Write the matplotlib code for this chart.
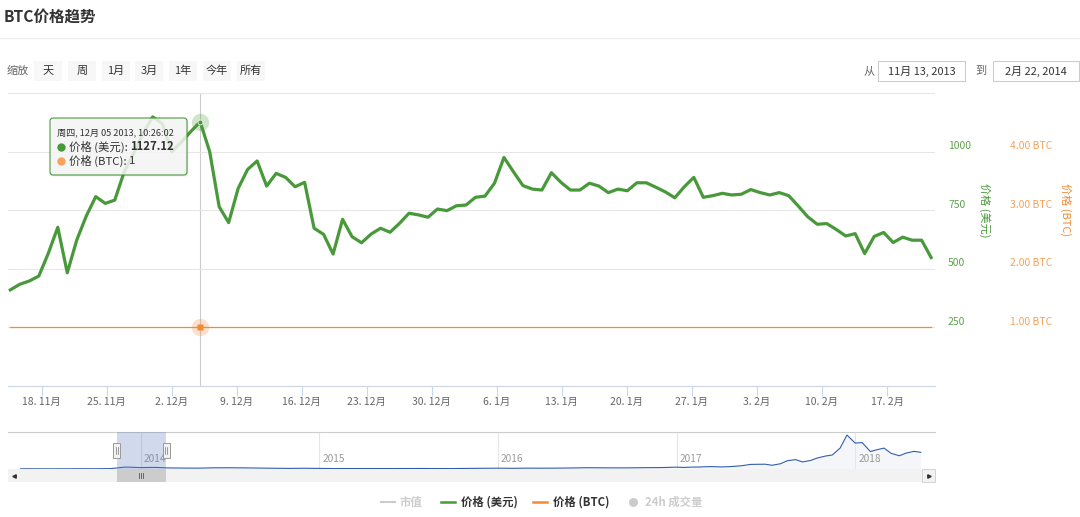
import matplotlib
matplotlib.use('Agg')
import matplotlib.pyplot as plt
import matplotlib.dates as mdates
from matplotlib.patches import Rectangle, FancyBboxPatch
from matplotlib.ticker import FuncFormatter
import pandas as pd

plt.rcParams['font.family'] = ['Noto Sans CJK SC', 'DejaVu Sans']

# ---- data ----
usd_price = [
    410, 434, 448, 469, 566, 677, 483, 623, 725, 808,
    779, 793, 914, 994, 1079, 1148, 1120, 999, 1040, 1085,
    1127.12, 1000, 765, 697, 843, 924, 960, 853, 907, 890,
    850, 869, 673, 647, 563, 711, 637, 611, 648, 673,
    656, 694, 737, 730, 720, 755, 748, 769, 772, 805,
    810, 865, 975, 914, 855, 840, 836, 910, 869, 836,
    836, 865, 853, 825, 840, 833, 867, 867, 848, 828,
    803, 850, 890, 805, 812, 822, 815, 818, 838, 825,
    815, 825, 812, 768, 722, 690, 693, 668, 640, 650,
    565, 638, 655, 612, 635, 622, 622, 548]
btc_price = [1] * len(usd_price)
first_time = '2013-11-14 15:00'
last_time = '2014-02-21 18:00'

hover_index = 20
hover_label = '周四, 12月 05 2013, 10:26:02'

usd_ticks = [250, 500, 750, 1000]
btc_ticks = [1, 2, 3, 4]

range_from = '11月 13, 2013'
range_to = '2月 22, 2014'
sel_start = '2013-11-13'
sel_end = '2014-02-22'
zoom_buttons = ['天', '周', '1月', '3月', '1年', '今年', '所有']

# navigator (whole history), monthly then twice a month
nav_monthly = [
    117, 108, 90, 105, 130, 125, 210, 1000,
    750, 830, 560, 480, 450, 630, 640, 590, 480, 385, 325, 380,
    315, 225, 255, 245, 235, 230, 260, 285, 230, 240, 315, 365,
    430, 370, 435, 415, 450, 535, 670, 620, 575, 610, 700, 745]
nav_semimonthly = [
    965, 820, 990, 1010, 1190, 1240, 1080, 1180, 1420, 1740, 2400, 2450,
    2500, 1950, 2730, 4300, 4900, 3700, 4400, 5700, 6750, 7300, 10900, 17700,
    13500, 13800, 9100, 10100, 10900, 8200, 6900, 8300, 9200, 8700]
nav_years = ['2014', '2015', '2016', '2017', '2018']

W, H = 1080, 517
PT = 0.72
green = '#48993a'
green_lbl = '#5da34a'
orange = '#f28b36'
orange_lbl = '#f4a35d'
grey_txt = '#666666'

dates = pd.date_range(first_time, last_time, periods=len(usd_price))
nav_dates = list(pd.date_range('2013-05-01', '2016-12-01', freq='MS')) + \
    list(pd.date_range('2017-01-01', '2018-05-15', freq='SMS'))
nav_vals = nav_monthly + nav_semimonthly

fig = plt.figure(figsize=(W / 100, H / 100), dpi=100)
fig.patch.set_facecolor('white')


def rect(x0, y0, x1, y1):
    return [x0 / W, 1 - y1 / H, (x1 - x0) / W, (y1 - y0) / H]


# ---- main chart ----
ax = fig.add_axes(rect(8, 93, 935, 386))
ax.plot(dates, usd_price, color=green, lw=2.3, solid_joinstyle='round', zorder=3)
ax.axvline(dates[hover_index], color='#cccccc', lw=0.8, zorder=1)
ax.plot(dates[hover_index], usd_price[hover_index], 'o', ms=12.5, color=green,
        alpha=0.25, mec='none', zorder=4)
ax.plot(dates[hover_index], usd_price[hover_index], 'o', ms=3.5, color=green,
        mec='white', mew=0.5, zorder=5)
ax.set_ylim(0, 1250)
ax.set_xlim(pd.Timestamp('2013-11-14 09:00'), pd.Timestamp('2014-02-22 04:00'))
ax.set_yticks([0, 250, 500, 750, 1000, 1250])
ax.grid(axis='y', color='#e6e6e6', lw=0.75, zorder=0)
ax.tick_params(axis='y', length=0, labelleft=False)
for s in ['top', 'left', 'right']:
    ax.spines[s].set_visible(False)
ax.spines['bottom'].set_color('#ccd6eb')
ax.spines['bottom'].set_linewidth(0.8)
ax.xaxis.set_major_locator(mdates.WeekdayLocator(byweekday=mdates.MO))
ax.xaxis.set_major_formatter(FuncFormatter(
    lambda v, p: '%d. %d月' % (mdates.num2date(v).day, mdates.num2date(v).month)))
ax.tick_params(axis='x', direction='out', length=10 * PT, width=0.8, color='#ccd6eb',
               labelsize=7.5, labelcolor=grey_txt, pad=1)

for v in usd_ticks:
    ax.annotate(str(v), xy=(1, v), xycoords=('axes fraction', 'data'),
                xytext=(13 * PT, 5.5 * PT), textcoords='offset points',
                ha='left', va='center', fontsize=7.5, color=green_lbl, annotation_clip=False)

ax2 = ax.twinx()
ax2.plot(dates, btc_price, color=orange, lw=0.9, zorder=2)
ax2.plot(dates[hover_index], btc_price[hover_index], 'o', ms=12.5, color=orange,
         alpha=0.25, mec='none')
ax2.plot(dates[hover_index], btc_price[hover_index], 's', ms=4.3, color=orange, mec='none')
ax2.set_ylim(0, 5)
ax2.set_yticks([])
for s in ax2.spines.values():
    s.set_visible(False)
for b in btc_ticks:
    ax2.annotate('%.2f BTC' % b, xy=(1, b), xycoords=('axes fraction', 'data'),
                 xytext=(75 * PT, 5.5 * PT), textcoords='offset points',
                 ha='left', va='center', fontsize=7.5, color=orange_lbl, annotation_clip=False)

# ---- navigator ----
nav = fig.add_axes(rect(8, 432, 935, 469))
nav.plot(nav_dates, nav_vals, color='#335cad', lw=0.8, zorder=3)
nav.fill_between(nav_dates, nav_vals, 0, color='#335cad', alpha=0.05, lw=0)
nav.set_xlim(pd.Timestamp('2013-04-05'), pd.Timestamp('2018-06-13'))
nav.set_ylim(0, 19300)
nav.set_xticks([pd.Timestamp(y + '-01-01') for y in nav_years])
nav.grid(axis='x', color='#e6e6e6', lw=0.8, zorder=0)
nav.tick_params(length=0, labelbottom=False, labelleft=False)
nav.set_yticks([])
for s in ['left', 'right', 'bottom']:
    nav.spines[s].set_visible(False)
nav.spines['top'].set_color('#cccccc')
nav.spines['top'].set_linewidth(0.8)
for y in nav_years:
    nav.annotate(y, xy=(pd.Timestamp(y + '-01-01'), 0), xycoords=('data', 'axes fraction'),
                 xytext=(3 * PT, 10 * PT), textcoords='offset points',
                 ha='left', va='center', fontsize=7.3, color='#999999')
nav.axvspan(pd.Timestamp(sel_start), pd.Timestamp(sel_end),
            color=(102 / 255, 133 / 255, 194 / 255, 0.3), lw=0, zorder=4)

# ---- overlay for the page furniture ----
ov = fig.add_axes([0, 0, 1, 1])
ov.set_xlim(0, W)
ov.set_ylim(H, 0)
ov.axis('off')


def to_px(axis, x, y):
    dx, dy = axis.transData.transform((x, y))
    return dx, H - dy


ov.text(4, 18, 'BTC价格趋势', fontsize=11.2, fontweight='bold', color='#333333', va='center')
ov.plot([0, W], [37.5, 37.5], color='#ececec', lw=0.8)

ov.text(7, 71, '缩放', fontsize=8, color=grey_txt, va='center')
for i, lab in enumerate(zoom_buttons):
    x0 = 34 + i * 33.8
    ov.add_patch(Rectangle((x0, 61), 28, 20, facecolor='#f7f7f7', edgecolor='none'))
    ov.text(x0 + 14, 71, lab, fontsize=8, color='#333333', ha='center', va='center')

ov.text(869, 71, '从', fontsize=8, color=grey_txt, ha='center', va='center')
ov.add_patch(Rectangle((878, 61), 87, 20, facecolor='white', edgecolor='#cccccc', lw=0.8))
ov.text(921.5, 71, range_from, fontsize=7.9, color='#333333', ha='center', va='center')
ov.text(981, 71, '到', fontsize=8, color=grey_txt, ha='center', va='center')
ov.add_patch(Rectangle((993, 61), 86, 20, facecolor='white', edgecolor='#cccccc', lw=0.8))
ov.text(1036, 71, range_to, fontsize=7.9, color='#333333', ha='center', va='center')

ov.text(985, 210, '价格 (美元)', fontsize=8, color=green, rotation=270, ha='center', va='center')
ov.text(1066, 210, '价格 (BTC)', fontsize=8, color=orange, rotation=270, ha='center', va='center')

# tooltip
ov.add_patch(FancyBboxPatch((51.5, 119.5), 137, 57, boxstyle='round,pad=0,rounding_size=3',
                            facecolor='black', alpha=0.06, edgecolor='none'))
ov.add_patch(FancyBboxPatch((50, 118), 137, 57, boxstyle='round,pad=0,rounding_size=3',
                            facecolor='#f7f7f7', alpha=0.85, edgecolor='none'))
ov.add_patch(FancyBboxPatch((50, 118), 137, 57, boxstyle='round,pad=0,rounding_size=3',
                            facecolor='none', edgecolor=green, lw=0.8))
ov.text(57, 133, hover_label, fontsize=6.6, color='#333333', va='center')
ov.plot(61, 147, 'o', ms=6, color=green, mec='none')
t1 = ov.text(69, 147, '价格 (美元): ', fontsize=8.2, color='#333333', va='center')
ov.annotate('%.2f' % usd_price[hover_index], xy=(1, 0.5), xycoords=t1, va='center',
            ha='left', fontsize=8.2, fontweight='bold', color='#333333')
ov.plot(61, 161, 'o', ms=6, color='#f7a35c', mec='none')
t2 = ov.text(69, 161, '价格 (BTC): ', fontsize=8.2, color='#333333', va='center')
ov.annotate('%g' % btc_price[hover_index], xy=(1, 0.5), xycoords=t2, va='center',
            ha='left', fontsize=8.2, color='#333333')

# navigator handles and scrollbar
hx0, _ = to_px(nav, mdates.date2num(pd.Timestamp(sel_start)), 0)
hx1, _ = to_px(nav, mdates.date2num(pd.Timestamp(sel_end)), 0)
ov.add_patch(Rectangle((8, 469), 914, 13, facecolor='#f2f2f2', edgecolor='none'))
ov.add_patch(Rectangle((hx0, 469), hx1 - hx0, 13, facecolor='#cccccc', edgecolor='none'))
for dx in (-2, 0, 2):
    ov.plot([(hx0 + hx1) / 2 + dx] * 2, [473, 478], color='#555555', lw=0.6)
ov.plot(14, 475.5, marker='<', ms=2.5, color='#333333')
ov.add_patch(Rectangle((922, 469), 13, 13, facecolor='#f2f2f2', edgecolor='#cccccc', lw=0.6))
ov.plot(928.5, 475.5, marker='>', ms=2.5, color='#333333')
for hx in (hx0, hx1):
    ov.add_patch(Rectangle((hx - 3.5, 443), 7, 15, facecolor='#f2f2f2', edgecolor='#999999', lw=0.7))
    for dx in (-1, 1):
        ov.plot([hx + dx] * 2, [447, 454], color='#777777', lw=0.5)

# legend
ly = 502
ov.plot([381, 395], [ly, ly], color='#cccccc', lw=1.5)
ov.text(400, ly, '市值', fontsize=8.2, fontweight='bold', color='#cccccc', va='center')
ov.plot([441, 455], [ly, ly], color=green, lw=1.8)
ov.text(461, ly, '价格 (美元)', fontsize=8.2, fontweight='bold', color='#333333', va='center')
ov.plot([533, 547], [ly, ly], color=orange, lw=1.8)
ov.text(553, ly, '价格 (BTC)', fontsize=8.2, fontweight='bold', color='#333333', va='center')
ov.plot(633, ly, 'o', ms=6.5, color='#cccccc', mec='none')
ov.text(645, ly, '24h 成交量', fontsize=8.2, fontweight='bold', color='#cccccc', va='center')

fig.savefig('out.png', dpi=100, facecolor='white')
